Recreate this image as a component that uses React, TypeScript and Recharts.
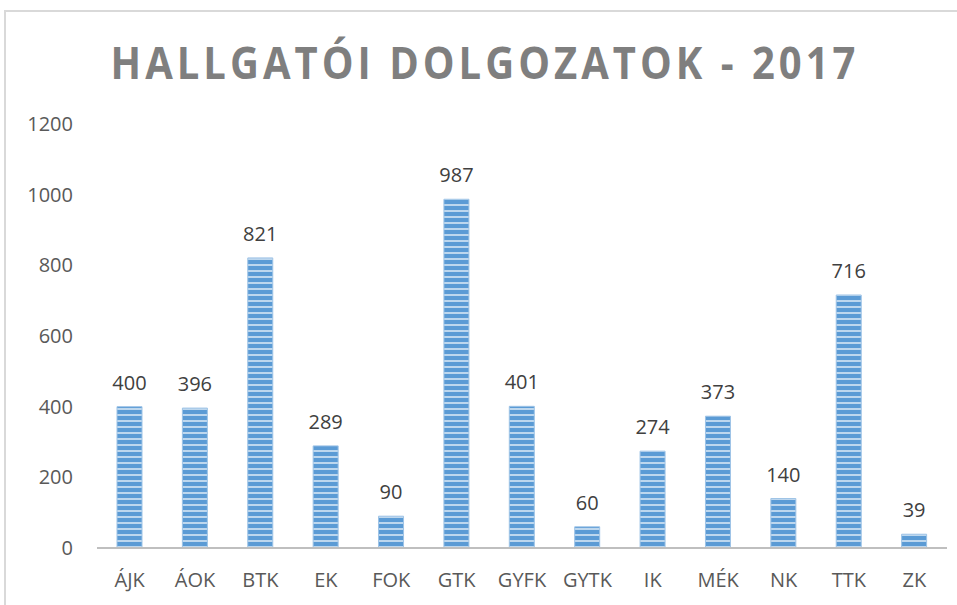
import React from "react";
import { BarChart, Bar, XAxis, YAxis, LabelList } from "recharts";

const categories = ["ÁJK", "ÁOK", "BTK", "EK", "FOK", "GTK", "GYFK", "GYTK", "IK", "MÉK", "NK", "TTK", "ZK"];
const values = [400, 396, 821, 289, 90, 987, 401, 60, 274, 373, 140, 716, 39];
const yTicks = [0, 200, 400, 600, 800, 1000, 1200];
const title = "HALLGATÓI DOLGOZATOK - 2017";

const data = categories.map((c, i) => ({ name: c, value: values[i] }));

export default function App() {
  return (
    <div style={{ position: "fixed", left: 0, top: 0, width: 957, height: 605, overflow: "hidden", background: "#fff" }}>
      <div style={{ position: "absolute", left: 4, top: 10, width: 2, height: 700, background: "#D9D9D9" }} />
      <div style={{ position: "absolute", left: 4, top: 10, width: 1000, height: 2, background: "#D9D9D9" }} />
      <div
        style={{
          position: "absolute",
          left: 0,
          top: 34,
          width: 957,
          paddingLeft: 13,
          boxSizing: "border-box",
          textAlign: "center",
          whiteSpace: "nowrap",
          fontFamily: "'Open Sans', sans-serif",
          fontWeight: 700,
          fontSize: 40,
          letterSpacing: 4,
          color: "#7F7F7F",
          lineHeight: "56px",
          transform: "scaleY(1.1)",
        }}
      >
        {title}
      </div>
      <div style={{ position: "absolute", left: 0, top: 0 }}>
        <BarChart width={957} height={605} data={data} margin={{ top: 124, right: 10, bottom: 0, left: 0 }}>
          <defs>
            <pattern id="stripes" patternUnits="userSpaceOnUse" width={10} height={6}>
              <rect x={0} y={0} width={10} height={6} fill="#5B9BD5" />
              <rect x={0} y={0} width={10} height={2} fill="#BDD7EE" />
            </pattern>
          </defs>
          <XAxis
            dataKey="name"
            height={57}
            tickSize={0}
            tickMargin={25}
            axisLine={{ stroke: "#BFBFBF", strokeWidth: 2 }}
            tick={{ fill: "#595959", fontSize: 20, fontFamily: "'Open Sans', sans-serif" }}
            interval={0}
          />
          <YAxis
            width={97}
            domain={[0, 1200]}
            ticks={yTicks}
            axisLine={false}
            tickLine={false}
            tickSize={0}
            tickMargin={24}
            tick={{ fill: "#595959", fontSize: 20, fontFamily: "'Open Sans', sans-serif" }}
          />
          <Bar dataKey="value" fill="url(#stripes)" stroke="#9DC3E6" strokeWidth={1} barSize={25} isAnimationActive={false}>
            <LabelList dataKey="value" position="top" offset={17} fill="#404040" fontSize={20} fontFamily="'Open Sans', sans-serif" />
          </Bar>
        </BarChart>
      </div>
    </div>
  );
}
